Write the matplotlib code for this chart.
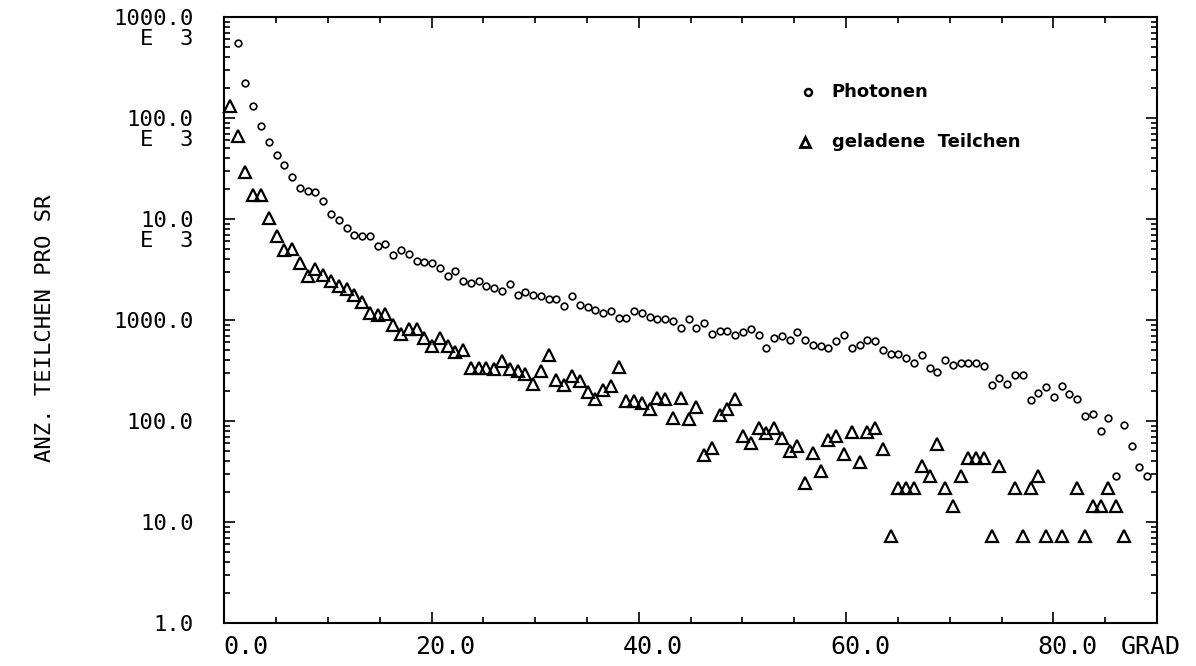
import numpy as np
import matplotlib
matplotlib.use('Agg')
import matplotlib.pyplot as plt
from matplotlib.ticker import MultipleLocator, LogLocator, NullFormatter
from matplotlib.transforms import ScaledTranslation

nan = np.nan

# Winkelbins (Grad), 0.75 Grad breit
winkel = [0.55, 1.30, 2.05, 2.80, 3.55, 4.30, 5.05, 5.80, 6.55, 7.30,
          8.05, 8.80, 9.55, 10.30, 11.05, 11.80, 12.55, 13.30, 14.05, 14.80,
          15.55, 16.30, 17.05, 17.80, 18.55, 19.30, 20.05, 20.80, 21.55, 22.30,
          23.05, 23.80, 24.55, 25.30, 26.05, 26.80, 27.55, 28.30, 29.05, 29.80,
          30.55, 31.30, 32.05, 32.80, 33.55, 34.30, 35.05, 35.80, 36.55, 37.30,
          38.05, 38.80, 39.55, 40.30, 41.05, 41.80, 42.55, 43.30, 44.05, 44.80,
          45.55, 46.30, 47.05, 47.80, 48.55, 49.30, 50.05, 50.80, 51.55, 52.30,
          53.05, 53.80, 54.55, 55.30, 56.05, 56.80, 57.55, 58.30, 59.05, 59.80,
          60.55, 61.30, 62.05, 62.80, 63.55, 64.30, 65.05, 65.80, 66.55, 67.30,
          68.05, 68.80, 69.55, 70.30, 71.05, 71.80, 72.55, 73.30, 74.05, 74.80,
          75.55, 76.30, 77.05, 77.80, 78.55, 79.30, 80.05, 80.80, 81.55, 82.30,
          83.05, 83.80, 84.55, 85.30, 86.05, 86.80, 87.55, 88.30, 89.05]

# Photonen pro sr
photonen = [nan,
            556000, 223000, 131000, 83000, 58000, 42500, 34000, 26100, 20100, 18800,
            18400, 14900, 11100, 9860, 8160, 6960, 6840, 6840, 5360, 5700,
            4410, 4980, 4540, 3810, 3720, 3670, 3280, 2700, 3030, 2450,
            2330, 2450, 2150, 2080, 1920, 2270, 1780, 1880, 1780, 1710,
            1610, 1610, 1390, 1710, 1420, 1350, 1260, 1170, 1220, 1050,
            1050, 1240, 1170, 1070, 1020, 1020, 969, 833, 1020, 833,
            934, 731, 771, 771, 715, 760, 815, 715, 528, 663,
            688, 628, 754, 638, 569, 547, 523, 614, 715, 528,
            560, 634, 624, 504, 463, 460, 416, 375, 450, 334,
            305, 404, 355, 377, 371, 375, 347, 225, 268, 234,
            285, 287, 160, 189, 217, 174, 223, 183, 166, 111,
            118, 78.7, 107, 28.2, 91.7, 56.8, 35.4, 28.2]

# geladene Teilchen pro sr
teilchen = [131000, 66000, 29300, 17100, 17100, 10300, 6840, 4920, 5090, 3660,
            2720, 3220, 2810, 2410, 2150, 2040, 1760, 1520, 1170, 1130,
            1140, 898, 731, 815, 815, 663, 547, 663, 547, 477,
            500, 334, 334, 334, 325, 395, 325, 315, 294, 234,
            310, 453, 256, 228, 276, 246, 193, 165, 201, 220,
            339, 159, 156, 152, 131, 169, 165, 107, 169, 104,
            139, 46.2, 54.6, 115, 131, 166, 70.2, 60.4, 85.1, 75.9,
            85.1, 67.7, 49.9, 56.8, 24.2, 48.4, 32.3, 64.1, 71.3, 47.3,
            78.2, 38.8, 76.9, 84.3, 52.6, 7.2, 21.6, 21.6, 21.6, 36,
            28.8, 59.4, 21.6, 14.4, 28.8, 43.2, 43.2, 43.2, 7.2, 36,
            nan, 21.6, 7.2, 21.6, 28.8, 7.2, nan, 7.2, nan, 21.6,
            7.2, 14.4, 14.4, 21.6, 14.4, 7.2, nan, nan, nan]

xticks = [0, 20, 40, 60, 80]
xlabels = ['0.0', '20.0', '40.0', '60.0', '80.0']
yticks = [1, 10, 100, 1e3, 1e4, 1e5, 1e6]
ylabels = ['1.0', '10.0', '100.0', '1000.0', '10.0', '100.0', '1000.0']

plt.rcParams['font.family'] = 'DejaVu Sans Mono'

fig = plt.figure(figsize=(11.96, 6.66), dpi=100)
ax = fig.add_axes([0.1875, 0.0646, 0.7799, 0.91])

ax.plot(winkel, photonen, 'o', ms=4.8, mfc='none', mec='black', mew=1.2,
        ls='none', clip_on=False)
ax.plot(winkel, teilchen, '^', ms=8.5, mfc='none', mec='black', mew=1.6,
        ls='none', clip_on=False)

ax.set_yscale('log')
ax.set_ylim(1, 1e6)
ax.set_xlim(0, 90)

for s in ax.spines.values():
    s.set_linewidth(1.5)

ax.set_xticks(xticks)
ax.set_xticklabels(xlabels, fontsize=18)
ax.xaxis.set_minor_locator(MultipleLocator(5))
ax.set_yticks(yticks)
ax.set_yticklabels(ylabels, fontsize=16)
ax.yaxis.set_minor_locator(LogLocator(base=10, subs=np.arange(2, 10)))
ax.yaxis.set_minor_formatter(NullFormatter())
ax.tick_params(which='both', direction='in', top=True, right=True, width=1.2)
ax.tick_params(which='major', length=8)
ax.tick_params(which='minor', length=4)
ax.tick_params(axis='x', pad=9)
ax.tick_params(axis='y', pad=22)

# x-Beschriftungen rechtsbuendig, nach rechts verschoben wie im Plotter
shift = ScaledTranslation(44 / 100, 0, fig.dpi_scale_trans)
for lab in ax.get_xticklabels():
    lab.set_ha('right')
    lab.set_transform(lab.get_transform() + shift)

ax.text(86.5, -0.02, 'GRAD', transform=ax.get_xaxis_transform(),
        ha='left', va='top', fontsize=18)

# zweite Zeile "E  3" fuer die Tausender
down = ScaledTranslation(0, -22 / 100, fig.dpi_scale_trans)
for v in yticks[4:]:
    ax.text(-0.0334, v, 'E  3', transform=ax.get_yaxis_transform() + down,
            ha='right', va='center', fontsize=16)

fig.text(45 / 1196, 0.507, 'ANZ. TEILCHEN PRO SR', rotation=90,
         ha='center', va='center', fontsize=16)

# Legende
ax.plot([0.6257], [0.876], 'o', ms=5, mfc='none', mec='black', mew=1.8,
        transform=ax.transAxes)
ax.text(0.6514, 0.876, 'Photonen', transform=ax.transAxes, ha='left',
        va='center', fontsize=13, fontweight='bold', family='DejaVu Sans')
ax.plot([0.6225], [0.7937], '^', ms=7, mfc='none', mec='black', mew=2,
        transform=ax.transAxes)
ax.text(0.6514, 0.7937, 'geladene  Teilchen', transform=ax.transAxes,
        ha='left', va='center', fontsize=13, fontweight='bold',
        family='DejaVu Sans')

fig.savefig('out.png', dpi=100)
